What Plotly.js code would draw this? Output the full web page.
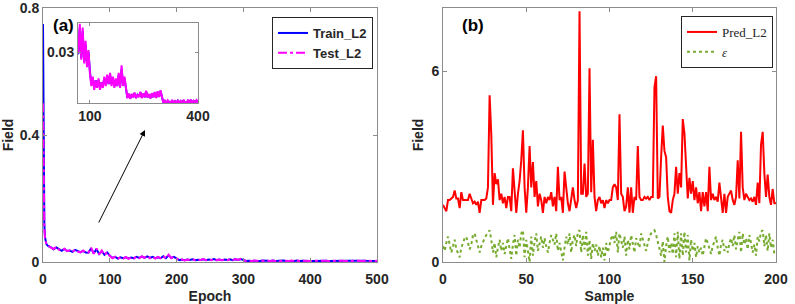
<!DOCTYPE html>
<html>
<head>
<meta charset="utf-8">
<script src="https://cdn.plot.ly/plotly-3.0.1.min.js"></script>
<style>html,body{margin:0;padding:0;background:#fff;}#chart{width:795px;height:304px;}</style>
</head>
<body>
<div id="chart"></div>
<script>
// ---------- Panel (a): training curves ----------
const headEpochs = [0, 1, 2, 3, 4, 5, 6];
const trainHead = [0.75, 0.26, 0.12, 0.078, 0.064, 0.057, 0.054];
const testHead  = [0.50, 0.21, 0.11, 0.075, 0.062, 0.056, 0.053];
const tailStart = 8, tailStep = 4; // epochs 8, 12, ..., 500
const testTail = [
  0.052,0.045,0.041,0.048,0.038,0.036,0.042,0.034,0.037,0.031,0.039,0.033,0.030,0.036,0.029,
  0.030,0.045,0.026,0.043,0.024,0.036,0.022,0.031,0.019,
  0.012,0.017,0.010,0.015,0.011,0.016,0.010,0.014,0.011,0.017,0.012,0.018,0.013,0.019,0.012,0.017,0.011,0.016,0.012,0.019,0.011,0.023,0.012,0.017,0.010,
  0.0055,0.008,0.0052,0.0078,0.006,0.0085,0.0055,0.0075,0.0062,0.009,0.0056,0.008,0.006,0.0095,0.0058,0.0078,0.0054,0.0082,0.006,0.0088,0.0056,0.0092,0.0062,0.0098,0.006,
  0.003,0.0042,0.0028,0.0044,0.0032,0.0027,0.0046,0.003,0.004,0.0028,0.0045,0.0031,0.0041,0.0029,0.0047,0.0033,0.0029,0.0043,0.0031,0.0048,0.003,0.0042,0.0032,0.0045,0.0033,
  0.0036,0.0041,0.0033,0.0038,0.0035,0.0042,0.0034,0.0039,0.0032,0.004,0.0036,0.0043,0.0033,0.0038,0.0035,0.0041,0.0034,0.0037,0.0032,0.0039,0.0035,0.0042,0.0033,0.0038,0.0036
];
const trainTail = [
  0.050,0.046,0.040,0.046,0.039,0.035,0.041,0.035,0.036,0.032,0.038,0.034,0.031,0.035,0.030,
  0.029,0.043,0.027,0.041,0.025,0.034,0.023,0.030,0.020,
  0.013,0.016,0.011,0.015,0.012,0.015,0.011,0.014,0.012,0.016,0.013,0.017,0.013,0.018,0.013,0.016,0.012,0.015,0.012,0.018,0.012,0.021,0.013,0.016,0.011,
  0.0058,0.0077,0.0054,0.0076,0.0062,0.0082,0.0057,0.0073,0.0063,0.0087,0.0058,0.0078,0.0061,0.0091,0.006,0.0076,0.0056,0.008,0.0061,0.0085,0.0058,0.0089,0.0063,0.0094,0.0061,
  0.0031,0.0041,0.0029,0.0042,0.0033,0.0028,0.0044,0.0031,0.0039,0.0029,0.0043,0.0032,0.004,0.003,0.0045,0.0033,0.003,0.0042,0.0032,0.0046,0.0031,0.0041,0.0033,0.0044,0.0034,
  0.0035,0.004,0.0034,0.0037,0.0036,0.0041,0.0035,0.0038,0.0033,0.0039,0.0035,0.0042,0.0034,0.0037,0.0036,0.004,0.0035,0.0036,0.0033,0.0038,0.0036,0.0041,0.0034,0.0037,0.0035
];
const epochTicks = [0, 100, 200, 300, 400, 500];
const fieldTicksA = [0, 0.4, 0.8];
const insetXTicks = [100, 400];
const insetYTicks = [0.03];

// ---------- Panel (b): prediction error per sample ----------
const predL2 = [
  1.8,1.7,1.6,1.95,1.95,2.0,2.05,2.25,2.0,2.0,1.7,2.2,1.95,1.95,1.95,1.95,2.15,2.0,1.85,1.9,
  1.8,1.9,1.55,1.95,1.95,1.95,2.0,2.35,5.25,4.0,1.8,2.8,2.45,2.6,1.95,2.15,1.85,2.05,1.7,2.05,
  2.05,1.6,2.95,2.35,1.55,2.15,2.55,3.2,4.15,2.35,1.55,2.35,3.65,2.35,3.15,2.05,2.55,1.75,2.15,1.95,
  1.55,2.05,1.85,2.05,1.95,2.2,1.75,2.05,1.6,3.0,1.95,2.05,1.55,2.85,2.35,1.85,1.6,2.05,2.35,1.95,
  1.7,1.95,7.9,2.15,2.15,3.1,2.05,2.15,6.1,2.2,3.85,2.05,1.6,1.95,2.05,1.85,1.95,1.7,1.95,1.85,
  1.95,1.95,2.35,2.45,2.35,1.95,4.65,2.15,2.05,1.6,1.75,2.35,1.55,2.35,1.55,2.05,1.95,3.65,2.05,1.95,
  1.95,2.05,2.0,2.05,1.95,2.05,2.05,5.5,5.85,2.0,2.05,3.3,4.3,3.5,3.3,2.05,1.6,1.55,1.95,2.15,
  3.0,2.15,2.8,2.35,4.5,4.05,3.0,2.0,2.65,2.15,2.55,1.95,2.35,1.85,2.2,1.6,2.2,1.75,2.2,1.6,
  3.0,1.95,2.15,1.95,2.05,1.9,2.5,1.95,1.55,2.15,1.55,2.05,2.15,2.25,1.95,1.8,2.05,3.2,2.0,4.1,
  2.35,1.95,2.15,2.05,1.95,2.0,1.9,2.05,1.8,2.5,1.85,3.7,4.1,2.8,2.05,2.75,2.05,1.8,2.3,1.85,
  1.85
];
const epsilon = [
  0.5,0.35,0.6,0.8,0.55,0.3,0.5,0.7,0.4,0.25,
  0.15,0.45,0.6,0.75,0.8,0.6,0.4,0.55,0.85,0.9,
  0.7,0.45,0.3,0.5,0.65,0.75,0.85,0.95,1.0,0.7,
  0.3,0.6,0.15,0.45,0.7,0.35,0.6,0.25,0.5,0.75,
  0.4,0.1,0.55,0.85,0.2,0.7,0.45,0.9,1.0,0.15,
  0.7,0.3,0.0,0.8,0.2,0.65,0.9,0.35,0.55,0.8,
  0.45,0.75,0.5,0.3,0.6,0.85,0.7,0.55,0.9,0.35,
  0.6,0.25,0.05,0.45,0.8,0.55,0.9,0.3,0.7,0.85,
  0.5,0.95,1.0,0.3,0.85,0.4,0.95,0.2,0.7,0.1,
  0.6,0.35,0.55,0.2,0.5,0.15,0.45,0.05,0.6,0.3,
  0.5,0.75,0.85,0.6,0.95,0.3,0.9,0.65,0.45,0.8,
  0.2,0.7,0.4,0.85,0.55,0.3,0.75,0.6,0.45,0.9,
  0.7,0.5,0.35,0.6,0.8,0.9,0.95,1.0,0.85,0.6,
  0.4,0.2,0.65,0.0,0.5,0.8,0.3,0.6,0.25,0.9,
  0.15,0.95,0.1,0.9,0.2,0.95,0.3,0.85,0.05,0.7,
  0.35,0.6,0.15,0.5,0.3,0.45,0.2,0.55,0.75,0.6,
  0.4,0.25,0.5,0.65,0.8,0.45,0.2,0.55,0.7,0.35,
  0.5,0.3,0.6,0.75,0.5,0.85,0.4,0.7,0.95,0.3,
  0.9,0.55,0.75,0.4,0.85,0.6,0.3,0.55,0.2,0.8,
  0.65,0.95,1.0,0.5,0.85,0.35,0.9,0.45,0.7,0.25,
  0.3
];
const sampleTicks = [0, 50, 100, 150, 200];
const fieldTicksB = [0, 6];

// ---------- build ----------
const tailEpochs = testTail.map((_, i) => tailStart + tailStep * i);
const epochs = headEpochs.concat(tailEpochs);
const trainL2 = trainHead.concat(trainTail);
const testL2 = testHead.concat(testTail);
const samples = predL2.map((_, i) => i);

const W = 795, H = 304;
const px = v => v / W, py = v => 1 - v / H;

const tickFont = {family: 'Liberation Sans, Arial, sans-serif', size: 14, color: '#262626', weight: 'bold'};
const titleFont = {family: 'Liberation Sans, Arial, sans-serif', size: 14, color: '#262626', weight: 'bold'};
const frame = {showline: true, linecolor: '#8c8c8c', linewidth: 1, mirror: 'ticks', ticks: 'inside',
  ticklen: 4, tickcolor: '#8c8c8c', showgrid: false, zeroline: false, tickfont: tickFont, automargin: false};

const traces = [
  {x: epochs, y: trainL2, xaxis: 'x', yaxis: 'y', name: 'Train_L2', mode: 'lines',
   line: {color: '#0000ff', width: 2}, legend: 'legend'},
  {x: epochs, y: testL2, xaxis: 'x', yaxis: 'y', name: 'Test_L2', mode: 'lines',
   line: {color: '#ff00ff', width: 2, dash: 'dashdot'}, legend: 'legend'},
  {x: epochs, y: trainL2, xaxis: 'x3', yaxis: 'y3', mode: 'lines', showlegend: false,
   line: {color: '#0000ff', width: 2}},
  {x: epochs, y: testL2, xaxis: 'x3', yaxis: 'y3', mode: 'lines', showlegend: false,
   line: {color: '#ff00ff', width: 2}},
  {x: samples, y: predL2, xaxis: 'x2', yaxis: 'y2', name: 'Pred_L2', mode: 'lines',
   line: {color: '#ff0000', width: 2}, legend: 'legend2'},
  {x: samples, y: epsilon, xaxis: 'x2', yaxis: 'y2', name: '<i>ε</i>', mode: 'lines',
   line: {color: '#77ac30', width: 2, dash: 'dot'}, legend: 'legend2'}
];

const layout = {
  width: W, height: H,
  margin: {l: 0, r: 0, t: 0, b: 0},
  paper_bgcolor: '#fff', plot_bgcolor: 'rgba(0,0,0,0)',
  showlegend: true,
  xaxis: Object.assign({}, frame, {domain: [px(43), px(377)], range: [0, 500], tickvals: epochTicks,
    ticklabelstandoff: 4, title: {text: 'Epoch', font: titleFont, standoff: 6}}),
  yaxis: Object.assign({}, frame, {domain: [py(262), py(8)], range: [0, 0.8001], tickvals: fieldTicksA,
    ticktext: ['0', '0.4', '0.8'], ticklabeloverflow: 'allow',
    title: {text: 'Field', font: titleFont, standoff: 4}}),
  xaxis2: Object.assign({}, frame, {anchor: 'y2', domain: [px(443), px(776)], range: [0, 200], tickvals: sampleTicks,
    ticklabelstandoff: 4, title: {text: 'Sample', font: titleFont, standoff: 6}}),
  yaxis2: Object.assign({}, frame, {anchor: 'x2', domain: [py(262), py(8)], range: [0, 8], tickvals: fieldTicksB,
    title: {text: 'Field', font: titleFont, standoff: 4}}),
  xaxis3: Object.assign({}, frame, {anchor: 'y3', domain: [px(78), px(198)], range: [67, 400], tickvals: insetXTicks,
    ticklen: 3}),
  yaxis3: Object.assign({}, frame, {anchor: 'x3', domain: [py(103), py(23)], range: [0.003, 0.0454], tickvals: insetYTicks,
    ticktext: ['0.03'], ticklen: 3}),
  legend: {x: px(272), y: py(17), xanchor: 'left', yanchor: 'top', bgcolor: '#fff', bordercolor: '#262626', borderwidth: 1,
    font: {family: 'Liberation Sans, Arial, sans-serif', size: 13, color: '#262626', weight: 'bold'},
    tracegroupgap: 0, itemwidth: 30},
  legend2: {x: px(681), y: py(16), xanchor: 'left', yanchor: 'top', bgcolor: '#fff', bordercolor: '#262626', borderwidth: 1,
    font: {family: 'Liberation Serif, Times New Roman, serif', size: 13, color: '#262626'},
    tracegroupgap: 0, itemwidth: 30},
  annotations: [
    {xref: 'paper', yref: 'paper', x: px(51), y: py(25), xanchor: 'left', yanchor: 'middle', text: '(a)', showarrow: false,
     font: {family: 'Liberation Sans, Arial, sans-serif', size: 17, color: '#000', weight: 'bold'}},
    {xref: 'paper', yref: 'paper', x: px(460), y: py(25), xanchor: 'left', yanchor: 'middle', text: '(b)', showarrow: false,
     font: {family: 'Liberation Sans, Arial, sans-serif', size: 17, color: '#000', weight: 'bold'}},
    {xref: 'paper', yref: 'paper', x: px(145), y: py(130), ax: -47, ay: 94, text: '', showarrow: true,
     arrowhead: 2, arrowsize: 1.2, arrowwidth: 1, arrowcolor: '#000'}
  ]
};

Plotly.newPlot('chart', traces, layout, {displayModeBar: false, staticPlot: true});
</script>
</body>
</html>
